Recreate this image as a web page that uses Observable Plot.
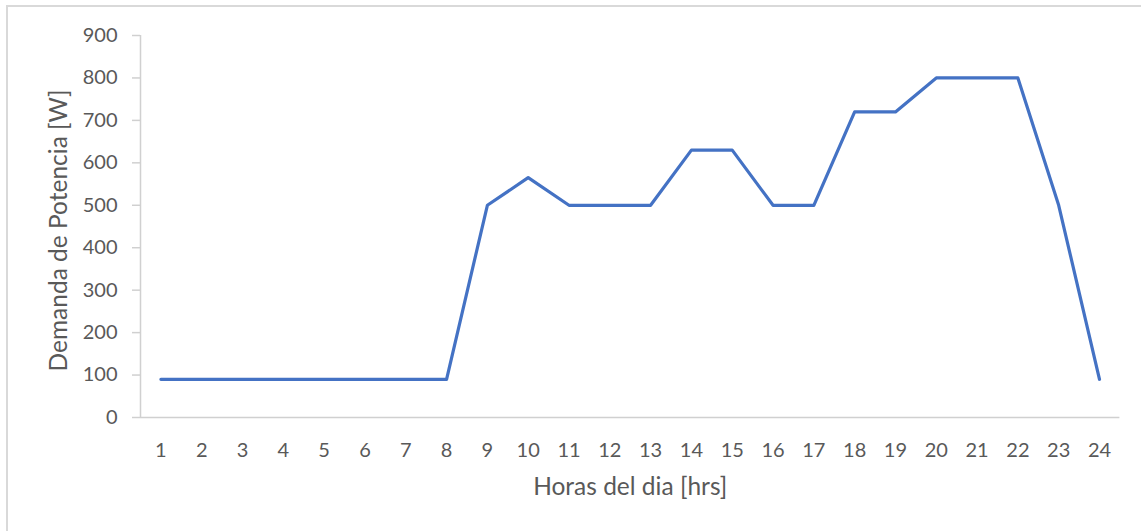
<!DOCTYPE html>
<html>
<head>
<meta charset="utf-8">
<script src="https://cdn.jsdelivr.net/npm/d3@7"></script>
<script src="https://cdn.jsdelivr.net/npm/@observablehq/plot@0.6"></script>
<style>
  html, body { margin: 0; padding: 0; background: #fff; overflow: hidden; }
  #wrap { position: relative; width: 1141px; height: 531px; overflow: hidden; }
  #border { position: absolute; left: 6px; top: 5px; width: 2000px; height: 2000px;
            border: 2px solid #d9d9d9; box-sizing: border-box; }
  #chart { position: absolute; left: 0; top: 0; }
</style>
</head>
<body>
<div id="wrap">
  <div id="border"></div>
  <div id="chart"></div>
</div>
<script>
const hours = [1, 2, 3, 4, 5, 6, 7, 8, 9, 10, 11, 12, 13, 14, 15, 16, 17, 18, 19, 20, 21, 22, 23, 24];
const demand = [90, 90, 90, 90, 90, 90, 90, 90, 500, 565, 500, 500, 500, 630, 630, 500, 500, 720, 720, 800, 800, 800, 500, 90];
const yTicks = [0, 100, 200, 300, 400, 500, 600, 700, 800, 900];
const xTitle = "Horas del dia [hrs]";
const yTitle = "Demanda de Potencia [W]";

const data = hours.map((h, i) => ({ hora: h, demanda: demand[i] }));

const chart = Plot.plot({
  width: 1141,
  height: 531,
  marginLeft: 140,
  marginRight: 21.6,
  marginTop: 35,
  marginBottom: 114,
  style: { fontFamily: "Lato, 'Open Sans', sans-serif", fontSize: "20px", color: "#595959", background: "transparent" },
  x: { domain: [0.5, 24.5] },
  y: { domain: [0, 900] },
  marks: [
    Plot.ruleX([0.5], { stroke: "#d0d0d0", strokeWidth: 1.5 }),
    Plot.ruleY([0], { stroke: "#d0d0d0", strokeWidth: 1.5 }),
    Plot.axisY({
      ticks: yTicks, tickSize: 8, tickPadding: 15, stroke: "#d0d0d0", strokeWidth: 1.5, fill: "#595959",
      tickFormat: d => String(d), label: null
    }),
    Plot.axisX({
      ticks: hours, tickSize: 0, tickPadding: 25, fill: "#595959",
      tickFormat: d => String(d), label: null
    }),
    Plot.text([xTitle], {
      text: d => d, frameAnchor: "bottom", textAnchor: "middle", lineAnchor: "middle",
      dy: 70, fontSize: 24.5, fill: "#595959"
    }),
    Plot.text([yTitle], {
      text: d => d, frameAnchor: "left", textAnchor: "middle", lineAnchor: "middle", rotate: -90,
      dx: -81, dy: 4, fontSize: 24.5, fill: "#595959"
    }),
    Plot.line(data, { x: "hora", y: "demanda", stroke: "#4472C4", strokeWidth: 3.2, strokeLinejoin: "round", strokeLinecap: "round" })
  ]
});
document.getElementById("chart").appendChild(chart);
</script>
</body>
</html>
